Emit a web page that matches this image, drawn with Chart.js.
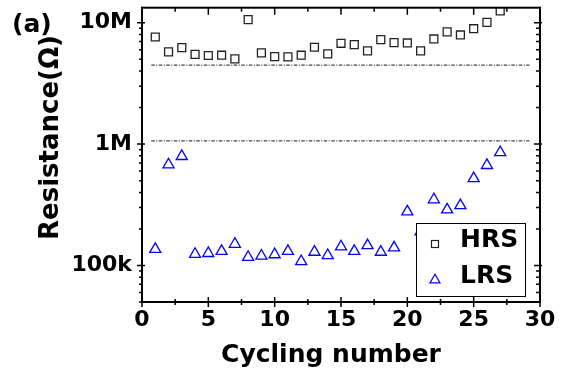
<!DOCTYPE html>
<html><head><meta charset="utf-8">
<script src="https://cdn.jsdelivr.net/npm/chart.js@4.4.1/dist/chart.umd.min.js"></script>
<style>html,body{margin:0;padding:0;background:#fff}#wrap{width:566px;height:371px;position:relative}</style>
</head><body><div id="wrap"><canvas id="c"></canvas></div>
<script>
const cycles = [1,2,3,4,5,6,7,8,9,10,11,12,13,14,15,16,17,18,19,20,21,22,23,24,25,26,27];
const hrs = [7.63e6,5.75e6,6.24e6,5.49e6,5.37e6,5.40e6,5.04e6,10.6e6,5.64e6,5.26e6,5.23e6,5.40e6,6.28e6,5.54e6,6.77e6,6.60e6,5.86e6,7.26e6,6.86e6,6.81e6,5.86e6,7.35e6,8.40e6,7.93e6,8.93e6,10.06e6,12.5e6];
const lrs = [136e3,677e3,793e3,124e3,126e3,131e3,150e3,117e3,120e3,123e3,131e3,108e3,129e3,121e3,143e3,131e3,146e3,129e3,140e3,277e3,190e3,349e3,288e3,312e3,521e3,669e3,855e3];
const seriesNames = ['HRS','LRS'];
const xTickLabels = [0,5,10,15,20,25,30];
const yTickValues = [1e5,1e6,1e7];
const yTickLabels = ['100k','1M','10M'];
const guideLevels = [4.47e6,1.064e6];
const guideRange = [0.7,29.2];

const FONT = 'DejaVu Sans';

function pts(xs, ys){ return xs.map((x,i)=>({x:x,y:ys[i]})); }

const guideSets = guideLevels.map(v=>({
  label:'guide', data: guideRange.map(x=>({x:x,y:v})), showLine:true,
  borderColor:'#444', borderWidth:1.3, borderDash:[3.5,1.5,1,1.5], pointRadius:0, order:3
}));

const deco = {
  id:'deco',
  afterDatasetsDraw(chart){
    const ctx = chart.ctx, a = chart.chartArea;
    const w=109, h=73, r=a.right-15, b=a.bottom-6, l=r-w, t=b-h;
    ctx.save();
    ctx.fillStyle='#fff'; ctx.fillRect(l,t,w,h);
    ctx.strokeStyle='#000'; ctx.lineWidth=1; ctx.strokeRect(l+0.5,t+0.5,w,h);
    ctx.font='bold 25px "'+FONT+'"'; ctx.fillStyle='#000'; ctx.textBaseline='middle'; ctx.textAlign='left';
    const ds = chart.data.datasets.filter(d=>seriesNames.includes(d.label));
    ds.forEach((d,i)=>{
      const cy = t + 21 + i*36, cx = l + 19;
      ctx.strokeStyle=d.borderColor; ctx.lineWidth=1.2;
      if(d.pointStyle==='rect'){ ctx.strokeRect(cx-3.5,cy-3.5,7,7); }
      else { const rr=5.8; ctx.beginPath(); ctx.moveTo(cx,cy-rr); ctx.lineTo(cx+rr*0.866,cy+rr/2); ctx.lineTo(cx-rr*0.866,cy+rr/2); ctx.closePath(); ctx.stroke(); }
      ctx.fillText(d.label, l+44, cy-4);
    });
    ctx.restore();
  },
  afterDraw(chart){
    const ctx = chart.ctx, a = chart.chartArea, xs = chart.scales.x, ys = chart.scales.y;
    ctx.save();
    ctx.strokeStyle='#000'; ctx.lineWidth=2;
    ctx.strokeRect(a.left, a.top, a.right-a.left, a.bottom-a.top);
    ctx.lineWidth=1.5;
    ctx.beginPath();
    xs.ticks.forEach(tk=>{
      const p = xs.getPixelForValue(tk.value);
      const major = xTickLabels.includes(tk.value);
      const L = major?5:3;
      ctx.moveTo(p,a.bottom-L); ctx.lineTo(p,a.bottom+L);
      ctx.moveTo(p,a.top); ctx.lineTo(p,a.top+(major?7:4));
    });
    ys.ticks.forEach(tk=>{
      const p = ys.getPixelForValue(tk.value);
      const major = yTickValues.includes(tk.value);
      const L = major?5:3;
      ctx.moveTo(a.left-L,p); ctx.lineTo(a.left+(major?3:1),p);
      ctx.moveTo(a.right-(major?6:4),p); ctx.lineTo(a.right+(major?2:1),p);
    });
    ctx.stroke();
    ctx.fillStyle='#000';
    ctx.font='bold 25px "'+FONT+'"'; ctx.textAlign='center'; ctx.textBaseline='middle';
    ctx.fillText('Cycling number', 331, 355);
    ctx.save(); ctx.translate(51,137.5); ctx.rotate(-Math.PI/2);
    ctx.font='bold 26px "'+FONT+'"'; ctx.fillText('Resistance(\u03A9)',0,0); ctx.restore();
    ctx.font='bold 25px "'+FONT+'"'; ctx.textAlign='left';
    ctx.fillText('(a)', 12, 25);
    ctx.restore();
  }
};

new Chart(document.getElementById('c'), {
  type:'scatter',
  data:{datasets:[
    {label:seriesNames[0], data:pts(cycles,hrs), pointStyle:'rect', pointRadius:5.6, pointHoverRadius:5.6, borderColor:'#222', backgroundColor:'rgba(0,0,0,0)', pointBorderWidth:1.3, order:1},
    {label:seriesNames[1], data:pts(cycles,lrs), pointStyle:'triangle', pointRadius:6.4, pointHoverRadius:6.4, borderColor:'#0000ff', backgroundColor:'rgba(0,0,0,0)', pointBorderWidth:1.3, order:2},
    ...guideSets
  ]},
  options:{
    responsive:true, maintainAspectRatio:false, animation:false, events:[],
    layout:{padding:{top:5,right:26,left:0,bottom:0}},
    plugins:{legend:{display:false}, tooltip:{enabled:false}},
    scales:{
      x:{type:'linear', min:0, max:30,
        afterFit(s){ s.height=69; s.paddingLeft=0; s.paddingRight=0; },
        grid:{display:false, drawTicks:false}, border:{display:false},
        ticks:{stepSize:2.5, autoSkip:false, maxRotation:0, padding:5, color:'#000',
          font:{family:FONT, size:22, weight:'bold'},
          callback:(v)=> xTickLabels.includes(v) ? String(v) : ''}
      },
      y:{type:'logarithmic', min:5e4, max:1.33e7,
        afterFit(s){ s.width=142; s.paddingTop=0; s.paddingBottom=0; },
        afterBuildTicks(s){
          const t=[];
          for(let d=4; d<=7; d++){ for(let m=1;m<=9;m++){ const v=m*Math.pow(10,d); if(v>=s.min && v<=s.max) t.push({value:v}); } }
          s.ticks=t;
        },
        grid:{display:false, drawTicks:false}, border:{display:false},
        ticks:{autoSkip:false, padding:10, color:'#000',
          font:{family:FONT, size:22, weight:'bold'},
          callback:(v)=>{ const i=yTickValues.indexOf(v); return i>=0 ? yTickLabels[i] : ''; }}
      }
    }
  },
  plugins:[deco]
});
</script></body></html>
